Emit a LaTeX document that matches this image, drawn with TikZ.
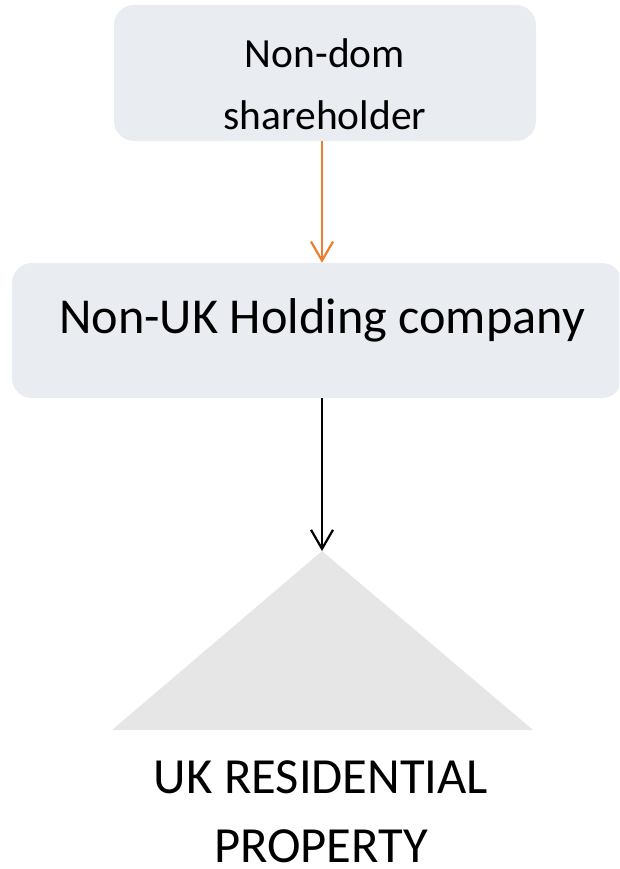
\documentclass[tikz,border=0pt]{standalone}
\usepackage{fontspec}
\setmainfont{Carlito}
\usetikzlibrary{arrows.meta}
\definecolor{boxfill}{RGB}{233,236,241}
\definecolor{linkorange}{RGB}{237,125,49}
\definecolor{roofgray}{RGB}{230,230,230}
\tikzset{
  panel/.style={fill=boxfill, draw=none, rounded corners=20pt, inner sep=0pt},
  link/.style={line width=2.2pt, -{Straight Barb[length=19pt,width=22pt,line width=2.2pt]}},
  caption/.style={anchor=base, inner sep=0pt, text=black},
}
\begin{document}
\begin{tikzpicture}[x=1pt,y=-1pt]
  \useasboundingbox (0,0) rectangle (619,869);
  \clip (0,0) rectangle (619,869);

  % shareholder box
  \node[panel, minimum width=422pt, minimum height=136pt] (top) at (325,73) {};
  \node[caption, font=\fontsize{41.5}{50}\selectfont] (topa) at (325,68) {Non-dom};
  \node[caption, font=\fontsize{41.5}{50}\selectfont] (topb) at (325,130) {shareholder};

  % holding company box (runs past the right edge)
  \node[panel, minimum width=610pt, minimum height=135pt] (mid) at (317,330.5) {};
  \node[caption, font=\fontsize{50.3}{60}\selectfont] (midl) at (322,333) {Non-UK Holding company};

  % property roof
  \coordinate (apex) at (322,551);
  \fill[roofgray] (apex) -- (533,730) -- (112,730) -- cycle;
  \node[caption, font=\fontsize{50.6}{60}\selectfont] (propa) at (321,793) {UK RESIDENTIAL};
  \node[caption, font=\fontsize{50.6}{60}\selectfont] (propb) at (321,862) {PROPERTY};

  % connectors
  \draw[link, linkorange] (top.south -| apex) -- (mid.north -| apex);
  \draw[link, black] (mid.south -| apex) -- (apex);
\end{tikzpicture}
\end{document}
